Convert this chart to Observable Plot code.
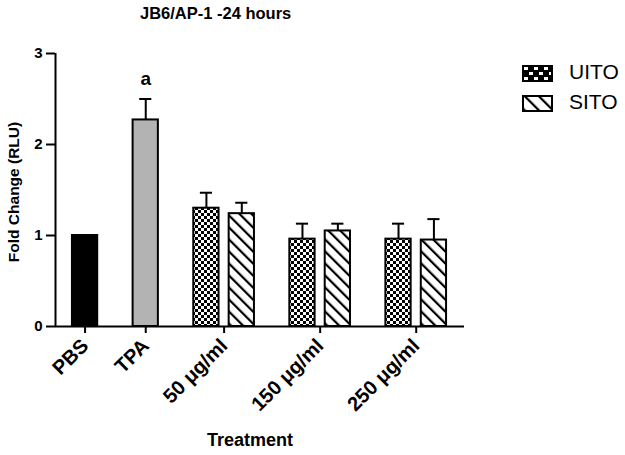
<!DOCTYPE html>
<html>
<head>
<meta charset="utf-8">
<script src="https://cdn.jsdelivr.net/npm/d3@7"></script>
<script src="https://cdn.jsdelivr.net/npm/@observablehq/plot@0.6"></script>
<style>
  body { margin: 0; background: #fff; font-family: "Liberation Sans", Arial, sans-serif; }
  #wrap { position: relative; width: 625px; height: 455px; }
  .abs { position: absolute; }
  #title { left: 140px; top: 4px; font-size: 16.5px; font-weight: bold; white-space: nowrap; }
  #xlabel { left: 207px; top: 430px; font-size: 18px; font-weight: bold; white-space: nowrap; }
  #ylabel { left: 14px; top: 192px; font-size: 15.5px; font-weight: bold; white-space: nowrap;
            transform: translate(-50%, -50%) rotate(-90deg); }
  .legtext { font-size: 21px; white-space: nowrap; }
</style>
</head>
<body>
<div id="wrap"></div>
<script>
// ---- data ----
const groups = ["PBS", "TPA", "50 μg/ml", "150 μg/ml", "250 μg/ml"];
const barGroup = ["PBS", "TPA", "50 μg/ml", "50 μg/ml", "150 μg/ml", "150 μg/ml", "250 μg/ml", "250 μg/ml"];
const barSeries = ["PBS", "TPA", "UITO", "SITO", "UITO", "SITO", "UITO", "SITO"];
const means = [1.0, 2.27, 1.30, 1.24, 0.96, 1.05, 0.96, 0.95];
const errors = [0, 0.23, 0.17, 0.12, 0.17, 0.08, 0.17, 0.23];
const yTicks = [0, 1, 2, 3];
const legendSeries = ["UITO", "SITO"];

const fills = {PBS: "#000", TPA: "#b3b3b3", UITO: "url(#checker)", SITO: "url(#stripes)"};

// layout in band units: bar width 1, gap within group 0.4, between groups 1.4
const bars = [];
let pos = 0;
barGroup.forEach((g, i) => {
  if (i > 0) pos += (g === barGroup[i - 1]) ? 0.4 : 1.4;
  bars.push({group: g, series: barSeries[i], mean: means[i], err: errors[i], x1: pos, x2: pos + 1, c: pos + 0.5});
  pos += 1;
});
const centers = groups.map(g => d3.mean(bars.filter(b => b.group === g), b => b.c));
const labelOf = new Map(centers.map((c, i) => [c, groups[i]]));
const xDomain = [-0.67, pos + 0.71];
const cap = 0.24;

const font = "'Liberation Sans', Arial, sans-serif";

const chart = Plot.plot({
  width: 625,
  height: 455,
  marginLeft: 55,
  marginRight: 161,
  marginTop: 53,
  marginBottom: 129,
  style: {fontFamily: font, background: "#fff", color: "#000"},
  x: {type: "linear", domain: xDomain, axis: null},
  y: {domain: [0, 3], axis: null},
  marks: [
    Plot.rectY(bars, {x1: "x1", x2: "x2", y: "mean", fill: d => fills[d.series], stroke: "#000", strokeWidth: 2}),
    Plot.ruleX(bars.filter(d => d.err > 0), {x: "c", y1: "mean", y2: d => d.mean + d.err, stroke: "#000", strokeWidth: 2}),
    Plot.ruleY(bars.filter(d => d.err > 0), {y: d => d.mean + d.err, x1: d => d.c - cap, x2: d => d.c + cap, stroke: "#000", strokeWidth: 2}),
    Plot.text(bars.filter(d => d.series === "TPA"), {x: "c", y: d => d.mean + d.err, text: () => "a", dy: -20, fontSize: 19, fontWeight: "bold", fill: "#000"}),
    Plot.ruleY([0], {stroke: "#000", strokeWidth: 2}),
    Plot.ruleX([xDomain[0]], {y1: 0, y2: 3, stroke: "#000", strokeWidth: 2}),
    Plot.axisY({ticks: yTicks, tickFormat: () => "", tickSize: 9, strokeWidth: 2, label: null}),
    Plot.text(yTicks, {y: d => d, text: d => String(d), frameAnchor: "left", textAnchor: "end", dx: -13,
      fontSize: 15, fontWeight: "bold", fill: "#000"}),
    Plot.axisX({ticks: centers, tickFormat: d => labelOf.get(d), tickRotate: -45, tickSize: 7, tickPadding: 9,
      fontSize: 20, fontWeight: "bold", strokeWidth: 2, label: null})
  ]
});

// patterns
const svg = d3.select(chart);
const defs = svg.insert("defs", ":first-child");
const ck = defs.append("pattern").attr("id", "checker").attr("patternUnits", "userSpaceOnUse").attr("width", 6).attr("height", 6);
ck.append("rect").attr("width", 6).attr("height", 6).attr("fill", "#fff");
ck.append("rect").attr("width", 3).attr("height", 3).attr("fill", "#000");
ck.append("rect").attr("x", 3).attr("y", 3).attr("width", 3).attr("height", 3).attr("fill", "#000");
const st = defs.append("pattern").attr("id", "stripes").attr("patternUnits", "userSpaceOnUse").attr("width", 8.5).attr("height", 8.5).attr("patternTransform", "rotate(-45)");
st.append("rect").attr("width", 8.5).attr("height", 8.5).attr("fill", "#fff");
st.append("rect").attr("width", 2.2).attr("height", 8.5).attr("fill", "#000");

const wrap = document.getElementById("wrap");
wrap.appendChild(chart);
chart.style.position = "absolute"; chart.style.left = "0"; chart.style.top = "0";

const t = document.createElement("div"); t.id = "title"; t.className = "abs"; t.textContent = "JB6/AP-1 -24 hours"; wrap.appendChild(t);
const xl = document.createElement("div"); xl.id = "xlabel"; xl.className = "abs"; xl.textContent = "Treatment"; wrap.appendChild(xl);
const yl = document.createElement("div"); yl.id = "ylabel"; yl.className = "abs"; yl.textContent = "Fold Change (RLU)"; wrap.appendChild(yl);

// legend
const legTop = [65, 95];
legendSeries.forEach((s, i) => {
  const sw = d3.create("svg").attr("width", 31).attr("height", 17)
    .style("position", "absolute").style("left", "522px").style("top", legTop[i] + "px");
  const d = sw.append("defs");
  if (s === "UITO") {
    const p = d.append("pattern").attr("id", "lgck").attr("patternUnits", "userSpaceOnUse").attr("width", 10).attr("height", 10).attr("x", 1).attr("y", 1);
    p.append("rect").attr("width", 10).attr("height", 10).attr("fill", "#000");
    p.append("rect").attr("x", 1).attr("y", 1).attr("width", 4).attr("height", 3).attr("fill", "#fff");
    p.append("rect").attr("x", 6).attr("y", 6).attr("width", 4).attr("height", 3).attr("fill", "#fff");
    sw.append("rect").attr("x", 1).attr("y", 1).attr("width", 29).attr("height", 15).attr("fill", "url(#lgck)").attr("stroke", "#000").attr("stroke-width", 2);
  } else {
    const p = d.append("pattern").attr("id", "lgst").attr("patternUnits", "userSpaceOnUse").attr("width", 10).attr("height", 10).attr("patternTransform", "rotate(-45)");
    p.append("rect").attr("width", 10).attr("height", 10).attr("fill", "#fff");
    p.append("rect").attr("width", 2.2).attr("height", 10).attr("fill", "#000");
    sw.append("rect").attr("x", 1).attr("y", 1).attr("width", 29).attr("height", 15).attr("fill", "url(#lgst)").attr("stroke", "#000").attr("stroke-width", 2);
  }
  wrap.appendChild(sw.node());
  const lt = document.createElement("div");
  lt.className = "abs legtext"; lt.textContent = s;
  lt.style.left = "569px"; lt.style.top = (legTop[i] - 5) + "px";
  wrap.appendChild(lt);
});
</script>
</body>
</html>
